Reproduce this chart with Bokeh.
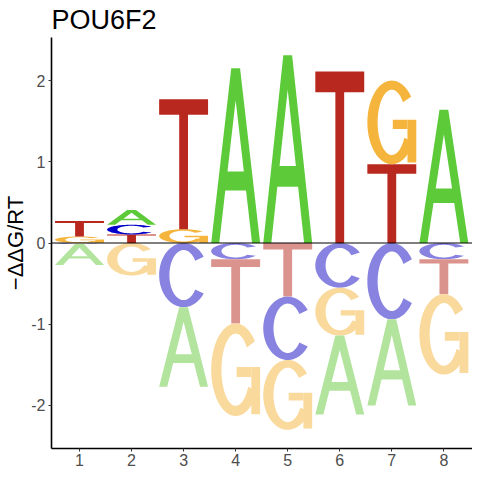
import numpy as np
from bokeh.plotting import figure
from bokeh.models import Range1d, FixedTicker, Span, ColumnDataSource
from bokeh.embed import file_html
from bokeh.resources import INLINE

# ---------------- data ----------------
title_text = "POU6F2"
y_label = "\u2212\u0394\u0394G/RT"
positions = [1, 2, 3, 4, 5, 6, 7, 8]
bases = ["A", "C", "G", "T"]
A_vals = [-0.26, 0.18, -0.98, 2.15, 2.31, -0.97, -1.06, 1.64]
C_vals = [-0.01, 0.12, -0.79, -0.20, -0.78, -0.55, -0.94, -0.20]
G_vals = [0.08, -0.40, 0.17, -1.14, -0.86, -0.59, 1.03, -0.99]
T_vals = [0.19, 0.105, 1.60, -0.79, -0.66, 2.11, 0.97, -0.43]
x_ticks = [1, 2, 3, 4, 5, 6, 7, 8]
y_ticks = [-2, -1, 0, 1, 2]
y_tick_labels = ["-2", "-1", "0", "1", "2"]

pos_colors = {"A": "#5DCA3A", "C": "#0000CC", "G": "#F5B53D", "T": "#B9281E"}
neg_colors = {"A": "#B2E49E", "C": "#8882E0", "G": "#FAD99D", "T": "#DB938E"}

letter_width = 0.94

# ---------------- letter outlines (unit box) ----------------
def arc_ring(t0, t1, rx_o=0.5, ry_o=0.5, rx_i=0.29, ry_i=0.39, n=80):
    t = np.radians(np.linspace(t0, t1, n))
    xo = 0.5 + rx_o * np.cos(t)
    yo = 0.5 + ry_o * np.sin(t)
    xi = 0.5 + rx_i * np.cos(t[::-1])
    yi = 0.5 + ry_i * np.sin(t[::-1])
    return [(list(np.concatenate([xo, xi])), list(np.concatenate([yo, yi])))]

def rect(x0, x1, y0, y1):
    return [([x0, x1, x1, x0], [y0, y0, y1, y1])]

def letter_polys(b):
    # each entry is one polygon (outer ring + optional holes), drawn separately
    if b == "T":
        return [[([0, 1, 1, 0.59, 0.59, 0.41, 0.41, 0],
                  [1, 1, 0.88, 0.88, 0, 0, 0.88, 0.88])]]
    if b == "A":
        outer = ([0, 0.41, 0.59, 1, 0.835, 0.712, 0.288, 0.165],
                 [0, 1, 1, 0, 0, 0.30, 0.30, 0])
        hole = ([0.333, 0.667, 0.5], [0.41, 0.41, 0.817])
        return [[outer, hole]]
    if b == "C":
        return [arc_ring(35, 325)]
    if b == "G":
        return [arc_ring(38, 332), rect(0.82, 1.0, 0.02, 0.53), rect(0.52, 0.82, 0.42, 0.53)]

vals = {"A": A_vals, "C": C_vals, "G": G_vals, "T": T_vals}

xs, ys, cols = [], [], []
for i, xpos in enumerate(positions):
    entries = [(b, vals[b][i]) for b in bases]
    pos = sorted([e for e in entries if e[1] > 0], key=lambda e: e[1])
    neg = sorted([e for e in entries if e[1] < 0], key=lambda e: -e[1])
    stacks = []
    base = 0.0
    for b, v in pos:
        stacks.append((b, base, v, pos_colors[b]))
        base += v
    base = 0.0
    for b, v in neg:
        stacks.append((b, base + v, -v, neg_colors[b]))
        base += v
    x0 = xpos - letter_width / 2
    for b, y0, h, c in stacks:
        for poly in letter_polys(b):
            px, py = [], []
            for rx, ry in poly:
                px.append([x0 + u * letter_width for u in rx])
                py.append([y0 + v * h for v in ry])
            xs.append([px])
            ys.append([py])
            cols.append(c)

src = ColumnDataSource(dict(xs=xs, ys=ys, color=cols))

# ---------------- figure ----------------
p = figure(width=472, height=468, output_backend="svg", toolbar_location=None,
           x_range=Range1d(0.462, 8.55), y_range=Range1d(-2.53, 2.53),
           min_border_left=44, min_border_right=0, min_border_top=36,
           min_border_bottom=0, title=title_text)
p.title.text_font = "Liberation Sans"
p.title.text_font_size = "27px"
p.title.text_font_style = "normal"
p.title.text_color = "black"
p.title.standoff = 5
p.title.offset = 0

p.multi_polygons(xs="xs", ys="ys", fill_color="color", line_color=None, source=src)

p.add_layout(Span(location=0, dimension="width", line_color="black", line_width=1, level="overlay"))

p.xgrid.visible = False
p.ygrid.visible = False
p.outline_line_color = None
p.background_fill_color = "white"
p.border_fill_color = "white"

p.xaxis.ticker = FixedTicker(ticks=x_ticks)
p.yaxis.ticker = FixedTicker(ticks=y_ticks)
p.yaxis.major_label_overrides = {t: l for t, l in zip(y_ticks, y_tick_labels)}
p.yaxis.axis_label = y_label

for ax in (p.xaxis, p.yaxis):
    ax.axis_line_color = "black"
    ax.axis_line_width = 1.6
    ax.major_tick_line_color = "#333333"
    ax.major_tick_line_width = 1
    ax.major_tick_out = 3
    ax.major_tick_in = 0
    ax.minor_tick_line_color = None
    ax.major_label_text_font = "Liberation Sans"
    ax.major_label_text_font_size = "16px"
    ax.major_label_text_color = "#4D4D4D"

p.xaxis.major_label_standoff = 2
p.yaxis.major_label_standoff = 3
p.yaxis.axis_label_standoff = 0
p.yaxis.axis_label_text_font = "Liberation Sans"
p.yaxis.axis_label_text_font_size = "22px"
p.yaxis.axis_label_text_font_style = "normal"
p.yaxis.axis_label_text_color = "black"

open("out.html", "w").write(file_html(p, INLINE))
